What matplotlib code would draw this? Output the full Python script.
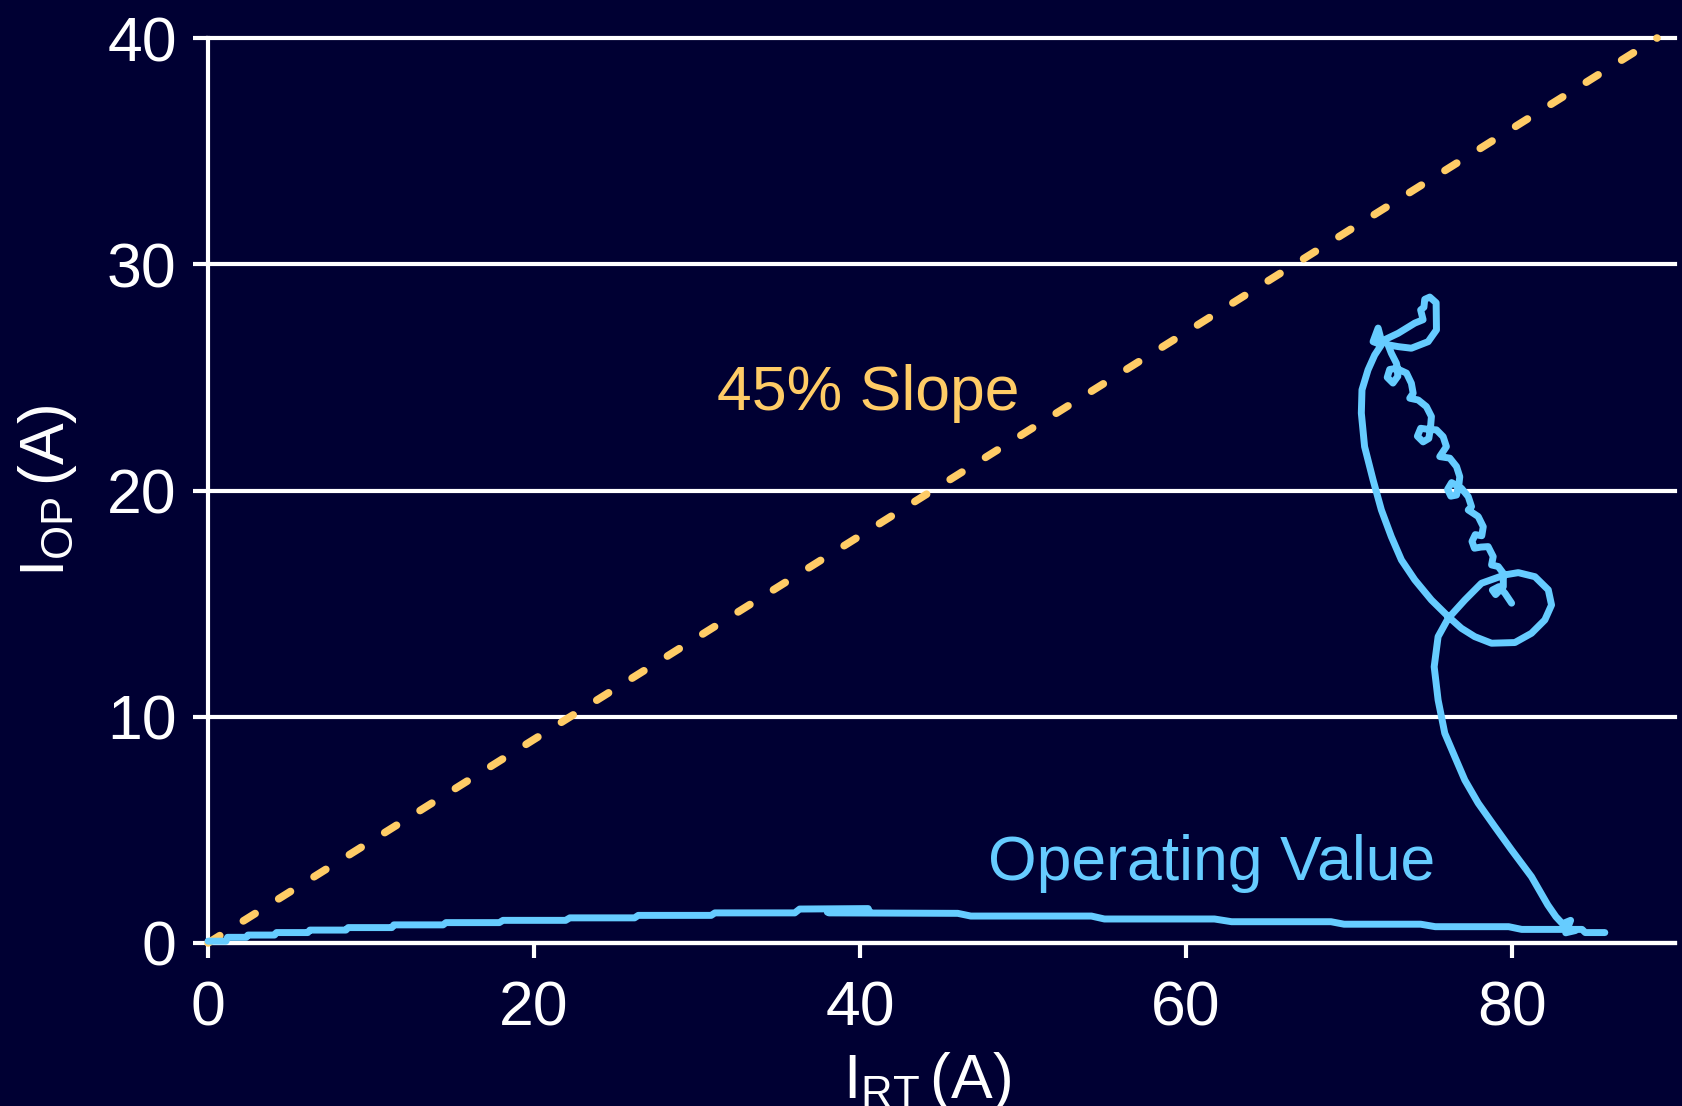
import matplotlib
matplotlib.use("Agg")
import matplotlib.pyplot as plt

plt.rcParams['font.family'] = ['Liberation Sans', 'DejaVu Sans']
plt.rcParams['mathtext.fontset'] = 'custom'
plt.rcParams['mathtext.rm'] = 'Liberation Sans'
plt.rcParams['mathtext.it'] = 'Liberation Sans:italic'
plt.rcParams['mathtext.bf'] = 'Liberation Sans:bold'
plt.rcParams['lines.scale_dashes'] = False

BG = '#000033'
BLUE = '#66CCFF'
GOLD = '#FFCC66'

# 45% slope characteristic (end points)
slope_x = [0, 88.9]
slope_y = [0, 40]

# operating value, lower branch
bottom_x = [0, 1.1, 1.2, 2.35, 2.45, 4.08, 4.2, 6.12, 6.25, 8.46, 8.6, 11.28,
            11.4, 14.42, 14.6, 17.87, 18.1, 21.94, 22.2, 26.17, 26.4, 30.87,
            31.1, 36.0, 36.3, 40.5, 40.6, 38.0, 38.1, 46.0, 46.8, 54.2, 55.0,
            61.75, 62.8, 68.9, 69.7, 74.4, 75.3, 79.8, 80.6, 84.3, 84.5, 85.7]
bottom_y = [0.08, 0.08, 0.25, 0.25, 0.35, 0.35, 0.46, 0.46, 0.57, 0.57, 0.68, 0.68,
            0.80, 0.80, 0.90, 0.90, 1.00, 1.00, 1.11, 1.11, 1.22, 1.22,
            1.33, 1.33, 1.50, 1.52, 1.36, 1.36, 1.33, 1.31, 1.19, 1.19, 1.06,
            1.06, 0.94, 0.94, 0.83, 0.83, 0.72, 0.72, 0.60, 0.60, 0.46, 0.46]

# operating value, loop after the fault
loop_x = [83.9, 83.3, 83.6, 83.1, 82.7, 82.2, 81.20, 79.98, 78.95, 77.93, 77.11,
          76.49, 75.88, 75.47, 75.23, 75.47, 76.09, 77.11, 78.13, 79.56, 80.39,
          81.41, 82.23, 82.43, 82.02, 81.20, 80.18, 78.75, 77.72, 76.90, 76.09,
          75.06, 74.04, 73.22, 72.60, 71.99, 71.48, 70.96, 70.76, 70.80, 71.17,
          71.58, 71.99, 71.48, 71.79, 72.00, 73.02, 74.04, 74.55, 74.40, 74.60,
          74.65, 74.96, 75.35, 75.37, 74.86, 73.83, 73.02, 72.40, 72.60, 72.91,
          72.95, 73.00, 72.70, 72.35, 72.50, 72.90, 73.53, 73.83, 73.94, 73.73,
          74.25, 74.75, 75.06, 75.00, 74.90, 74.55, 74.20, 74.40, 74.90, 75.37,
          75.78, 75.98, 75.57, 76.19, 76.60, 76.80, 76.75, 76.60, 76.25, 76.05,
          76.30, 76.90, 77.32, 77.52, 77.32, 77.93, 78.24, 78.15, 77.75, 77.55,
          77.70, 78.10, 78.54, 78.85, 78.75, 79.16, 79.47, 79.47, 79.00, 78.80,
          79.20, 79.57, 79.98]
loop_y = [0.55, 0.45, 1.00, 0.85, 1.16, 1.68, 2.93, 4.11, 5.14, 6.18, 7.20,
          8.24, 9.27, 10.74, 12.21, 13.54, 14.35, 15.16, 15.90, 16.27, 16.37,
          16.19, 15.61, 14.94, 14.28, 13.69, 13.28, 13.25, 13.54, 13.91, 14.43,
          15.16, 16.05, 16.93, 17.96, 19.14, 20.47, 21.94, 23.42, 24.45, 25.33,
          25.99, 26.44, 26.58, 27.18, 26.60, 26.95, 27.40, 27.55, 27.98, 28.10,
          28.45, 28.55, 28.30, 27.10, 26.58, 26.29, 26.36, 26.44, 26.07, 25.63,
          25.50, 25.05, 24.75, 25.00, 25.35, 25.40, 25.19, 24.74, 24.30, 24.08,
          24.00, 23.71, 23.27, 22.75, 22.30, 22.15, 22.40, 22.75, 22.70, 22.68,
          22.38, 21.94, 21.50, 21.43, 21.06, 20.61, 20.30, 19.80, 19.75, 20.05,
          20.35, 20.10, 19.73, 19.29, 19.14, 18.85, 18.40, 18.00, 18.05, 17.75,
          17.45, 17.50, 17.52, 17.08, 16.71, 16.64, 16.34, 15.75, 15.40, 15.60,
          15.75, 15.46, 15.02]

x_ticks = [0, 20, 40, 60, 80]
y_ticks = [0, 10, 20, 30, 40]

fig = plt.figure(figsize=(16.83, 11.06), dpi=100, facecolor=BG)
ax = fig.add_axes([0.1236, 0.1474, 0.8716, 0.8182])
ax.set_facecolor(BG)

# horizontal grid, drawn unclipped so the top line keeps its full width
for yv in y_ticks:
    ax.axhline(yv, color='white', lw=3, zorder=0.5, clip_on=False)

ax.plot(slope_x, slope_y, color=GOLD, lw=5.5, dashes=(10, 20),
        dash_capstyle='round', clip_on=False, zorder=3)
ax.plot(bottom_x, bottom_y, color=BLUE, lw=5, solid_capstyle='round',
        solid_joinstyle='round', clip_on=False, zorder=4)
ax.plot(loop_x, loop_y, color=BLUE, lw=5, solid_capstyle='round',
        solid_joinstyle='round', clip_on=False, zorder=4)

ax.text(40.5, 23.56, '45% Slope', color=GOLD, fontsize=45,
        ha='center', va='baseline')
ax.text(61.55, 2.785, 'Operating Value', color=BLUE, fontsize=45,
        ha='center', va='baseline')

ax.set_xlim(0, 90)
ax.set_ylim(0, 40)
ax.set_xticks(x_ticks)
ax.set_yticks(y_ticks)

for side in ['top', 'right']:
    ax.spines[side].set_visible(False)
for side in ['left', 'bottom']:
    ax.spines[side].set_color('white')
    ax.spines[side].set_linewidth(3)

ax.tick_params(axis='both', direction='out', length=11, width=3,
               color='white', labelcolor='white', labelsize=45)
ax.tick_params(axis='x', pad=15)
ax.tick_params(axis='y', pad=11.5)

ax.set_xlabel(r'I$_{\mathrm{RT}}\,$(A)', fontsize=45, color='white')
ax.xaxis.set_label_coords(0.49, -0.118)
ax.set_ylabel(r'I$_{\mathrm{OP}}\,$(A)', fontsize=45, color='white', labelpad=20)

fig.savefig('out.png', dpi=100, facecolor=BG)
